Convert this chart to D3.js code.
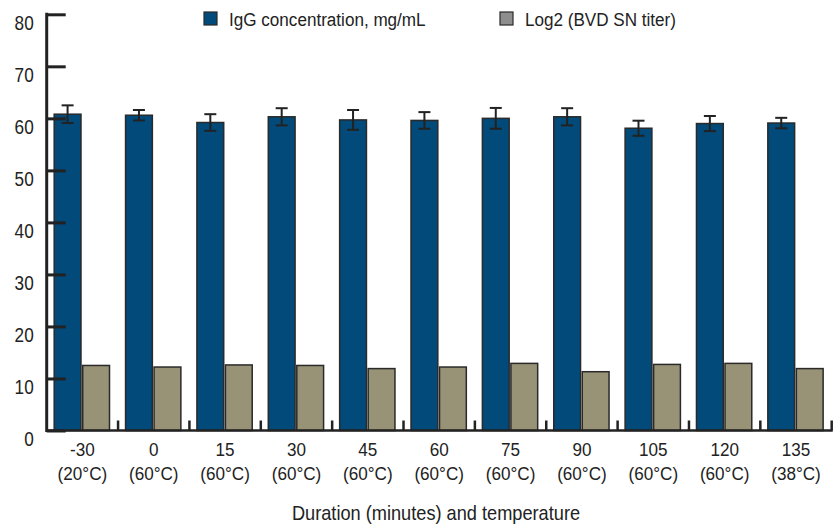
<!DOCTYPE html>
<html><head><meta charset="utf-8">
<script src="https://cdn.jsdelivr.net/npm/d3@7"></script>
<style>body{margin:0;background:#fff}svg{display:block}text{font-family:"Liberation Sans",Arial,Helvetica,sans-serif;fill:#222}</style>
</head><body>
<svg id="c" width="836" height="526"></svg>
<script>
const durations = ["-30","0","15","30","45","60","75","90","105","120","135"];
const temps = ["(20°C)","(60°C)","(60°C)","(60°C)","(60°C)","(60°C)","(60°C)","(60°C)","(60°C)","(60°C)","(38°C)"];
const igg = [60.8,60.6,59.2,60.3,59.7,59.6,60.0,60.3,58.1,59.0,59.1];
const iggErr = [1.7,1.0,1.6,1.65,1.9,1.6,2.0,1.65,1.45,1.45,1.0];
const log2 = [12.5,12.2,12.6,12.5,11.9,12.2,12.9,11.3,12.7,12.9,11.9];
const yTicks = [0,10,20,30,40,50,60,70,80];
const seriesNames = ["IgG concentration, mg/mL","Log2 (BVD SN titer)"];

// narrow the text horizontally to mimic a condensed face
function condense(sel, sx){
  sel.each(function(){
    const t = d3.select(this);
    const x0 = +(t.attr("x")||0), y0 = +(t.attr("y")||0);
    t.attr("x",0).attr("y",0).attr("transform",`translate(${x0},${y0}) scale(${sx},1)`);
  });
}

const svg = d3.select("#c");
const mLeft = 46.7, mRight = 831.7, mTop = 14.3, mBottom = 430.5;
const x = d3.scaleBand().domain(durations).range([mLeft, mRight]).padding(0);
const y = d3.scaleLinear().domain([0,80]).range([mBottom, mTop]);
const bw = x.bandwidth();
const sub = d3.scaleBand().domain(["igg","log2"]).range([bw*0.105, bw*0.88]).paddingInner(0.06);

const g = svg.append("g");
const groups = g.selectAll("g.cat").data(durations).join("g").attr("class","cat").attr("transform", d => `translate(${x(d)},0)`);
groups.append("rect").attr("x", sub("igg")).attr("width", sub.bandwidth())
  .attr("y", (d,i) => y(igg[i])).attr("height", (d,i) => y(0)-y(igg[i]))
  .attr("fill", "#014a79").attr("stroke", "#2a2a2a").attr("stroke-width", 1.5);
groups.append("rect").attr("x", sub("log2")).attr("width", sub.bandwidth())
  .attr("y", (d,i) => y(log2[i])).attr("height", (d,i) => y(0)-y(log2[i]))
  .attr("fill", "#989276").attr("stroke", "#2a2a2a").attr("stroke-width", 1.5);
const cx = sub("igg") + sub.bandwidth()/2;
groups.each(function(d,i){
  const s = d3.select(this);
  const hi = y(igg[i]+iggErr[i]), lo = y(igg[i]-iggErr[i]);
  s.append("line").attr("x1",cx).attr("x2",cx).attr("y1",hi).attr("y2",lo).attr("stroke","#222").attr("stroke-width",2);
  [hi,lo].forEach(v => s.append("line").attr("x1",cx-6).attr("x2",cx+6).attr("y1",v).attr("y2",v).attr("stroke","#222").attr("stroke-width",2));
});

const ya = svg.append("g").attr("transform", `translate(${mLeft},0)`)
  .call(d3.axisLeft(y).tickValues(yTicks).tickSizeInner(-19).tickSizeOuter(0).tickPadding(13));
ya.select(".domain").remove();
ya.selectAll(".tick line").attr("stroke","#222").attr("stroke-width",3);
ya.selectAll(".tick text").attr("font-size",19.5).attr("dy",null).attr("y",15).style("fill","#222");
condense(ya.selectAll(".tick text"), 0.88);
svg.append("line").attr("x1",mLeft).attr("x2",mLeft).attr("y1",mTop-1.5).attr("y2",mBottom+1.5).attr("stroke","#222").attr("stroke-width",3);

svg.append("line").attr("x1",mLeft).attr("x2",mRight+1).attr("y1",mBottom).attr("y2",mBottom).attr("stroke","#222").attr("stroke-width",2.5);
svg.selectAll("line.bt").data(durations).join("line").attr("class","bt")
  .attr("x1", d => x(d)+x.step()).attr("x2", d => x(d)+x.step())
  .attr("y1", mBottom-10).attr("y2", mBottom).attr("stroke","#222").attr("stroke-width",2.5);

const xa = svg.append("g").attr("transform", `translate(0,${mBottom})`)
  .call(d3.axisBottom(x).tickSize(0).tickPadding(0));
xa.select(".domain").remove();
xa.selectAll(".tick text").each(function(d,i){
  const t = d3.select(this).text(null).attr("font-size",19).attr("y",0).attr("dy",null).style("fill","#222");
  t.append("tspan").attr("x",0).attr("y",26).text(durations[i]);
  t.append("tspan").attr("x",0).attr("y",50).text(temps[i]);
  t.attr("transform","scale(0.9,1)");
});

const title = svg.append("text").attr("x",436).attr("y",520).attr("text-anchor","middle").attr("font-size",20).text("Duration (minutes) and temperature");
condense(title, 0.91);

const leg = [{name:seriesNames[0], fill:"#014a79", x:204},{name:seriesNames[1], fill:"#8e8e8e", x:500}];
const lg = svg.selectAll("g.leg").data(leg).join("g").attr("class","leg").attr("transform", d => `translate(${d.x},12)`);
lg.append("rect").attr("width",13).attr("height",13).attr("fill", d => d.fill).attr("stroke","#2a2a2a").attr("stroke-width",1.2);
condense(lg.append("text").attr("x",25).attr("y",14).attr("font-size",19).text(d => d.name), 0.9);
</script>
</body></html>
